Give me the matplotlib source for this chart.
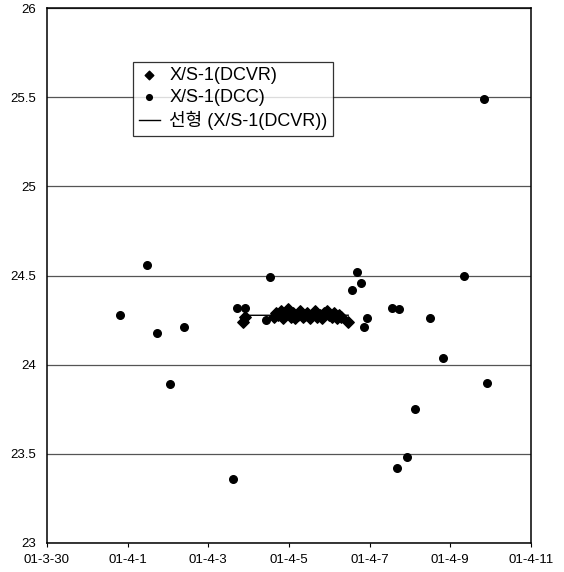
import numpy as np
import matplotlib.pyplot as plt

plt.rcParams['font.family'] = ['Liberation Sans', 'Noto Sans CJK KR', 'DejaVu Sans']

# days counted from 01-3-30
dcvr_day = [4.86, 4.92, 5.62, 5.68, 5.74, 5.80, 5.86, 5.92, 5.98, 6.04, 6.10,
            6.16, 6.22, 6.28, 6.34, 6.40, 6.46, 6.52, 6.58, 6.64, 6.70, 6.76,
            6.82, 6.88, 6.94, 7.00, 7.06, 7.12, 7.18, 7.24, 7.30, 7.47]
dcvr_val = [24.24, 24.27, 24.27, 24.29, 24.28, 24.30, 24.26, 24.29, 24.31, 24.27,
            24.29, 24.26, 24.28, 24.30, 24.27, 24.28, 24.29, 24.26, 24.28, 24.30,
            24.27, 24.28, 24.26, 24.29, 24.30, 24.28, 24.27, 24.29, 24.26, 24.28,
            24.27, 24.24]

dcc_day = [1.81, 2.49, 2.74, 3.06, 3.40, 4.61, 4.70, 4.90, 5.44, 5.52, 7.57,
           7.69, 7.78, 7.86, 7.94, 8.55, 8.69, 8.72, 8.94, 9.12, 9.50, 9.81,
           10.35, 10.84, 10.92]
dcc_val = [24.28, 24.56, 24.18, 23.89, 24.21, 23.36, 24.32, 24.32, 24.25, 24.49,
           24.42, 24.52, 24.46, 24.21, 24.26, 24.32, 23.42, 24.31, 23.48, 23.75,
           24.26, 24.04, 24.50, 25.49, 23.90]

tick_days = [0, 2, 4, 6, 8, 10, 12]
tick_labels = ["01-3-30", "01-4-1", "01-4-3", "01-4-5", "01-4-7", "01-4-9", "01-4-11"]

fig = plt.figure(figsize=(5.64, 5.72), dpi=100)
ax = fig.add_axes([0.0833, 0.0507, 0.858, 0.935])

ax.scatter(dcvr_day, dcvr_val, marker="D", s=34, color="black", zorder=3,
           label="X/S-1(DCVR)")
ax.scatter(dcc_day, dcc_val, marker="o", s=30, color="black", zorder=3,
           label="X/S-1(DCC)")

# 선형 추세선
k, m = np.polyfit(dcvr_day, dcvr_val, 1)
xs = np.array([min(dcvr_day), max(dcvr_day)])
ax.plot(xs, k * xs + m, color="black", lw=1, zorder=2, label="선형 (X/S-1(DCVR))")

ax.set_xlim(0, 12)
ax.set_ylim(23, 26)
ax.set_xticks(tick_days)
ax.set_xticklabels(tick_labels)
ax.set_yticks(np.arange(23, 26.01, 0.5))
ax.set_yticklabels(["23", "23.5", "24", "24.5", "25", "25.5", "26"])
ax.tick_params(axis="both", labelsize=9.5, length=3, width=0.8)
ax.tick_params(axis="y", length=0, pad=8)
ax.tick_params(axis="x", pad=5)
ax.yaxis.grid(True, color="#555555", lw=0.9)
ax.set_axisbelow(True)
for s in ax.spines.values():
    s.set_linewidth(1.1)
    s.set_color("black")

leg = ax.legend(loc="upper left", bbox_to_anchor=(0.178, 0.9), fontsize=13,
                frameon=True, fancybox=False, edgecolor="black",
                handlelength=1.2, handletextpad=0.5, borderpad=0.3,
                labelspacing=0.28, scatterpoints=1, borderaxespad=0,
                markerscale=0.75)
leg.get_frame().set_linewidth(0.9)

fig.savefig("out.png", dpi=100)
